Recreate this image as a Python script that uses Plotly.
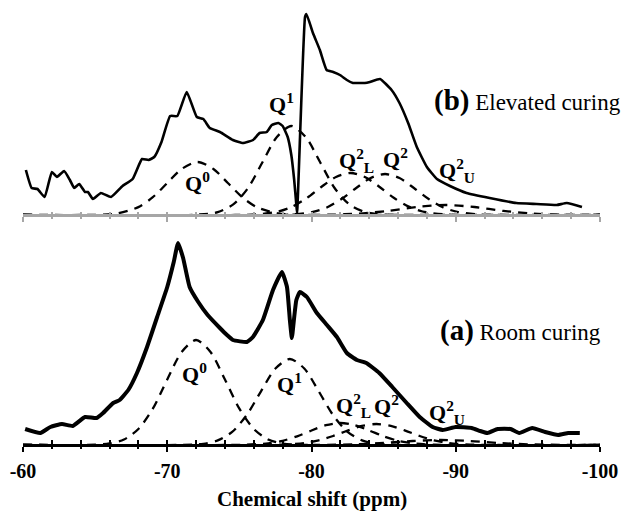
import plotly.graph_objects as go

# ---------------- data ----------------
# (b) Elevated curing – measured spectrum
b_ppm = [-60.2, -60.6, -61.0, -61.5, -62.0, -62.35, -62.85, -63.25, -63.55, -63.9, -64.3, -64.5,
         -64.85, -65.4, -66.1, -66.9, -67.6, -68.25, -68.7, -69.1, -69.6, -70.2, -70.7, -71.35,
         -72.05, -72.5, -72.95, -73.65, -74.55, -75.25, -75.95, -76.4, -76.9, -77.25, -77.7, -78.0,
         -78.35, -78.6, -78.8, -78.95, -79.0, -79.55, -79.65, -80.1, -80.58, -81.05, -81.5, -81.97,
         -82.45, -82.87, -83.15, -83.7, -84.05, -84.75, -85.55, -86.1, -86.7, -87.3, -88.0, -88.7,
         -89.6, -90.75, -92.35, -94.2, -95.6, -97.0, -97.7, -98.75]
b_int = [45, 27, 26, 18, 43, 38, 44, 35, 27, 31, 23, 23,
         16, 22, 18, 29, 36, 56, 55, 58, 73, 99, 99, 123,
         98, 96, 87, 83, 75, 72, 75, 82, 83, 90, 92, 89,
         78, 60, 35, 10, 2, 198, 201, 182, 165, 145, 143, 140,
         135, 132, 132, 132, 133, 136, 125, 112, 92, 68, 48, 36,
         29, 22, 17, 12, 11, 10, 12, 8]

# (b) fitted components
bQ0_ppm = [-60, -65, -66.5, -68, -69, -70, -71, -72.1, -73.2, -74.2, -75.2, -76.2, -77.7, -79.2, -85, -100]
bQ0_int = [0, 0.2, 1.5, 7.9, 17.8, 32, 46, 53, 46, 32, 17.8, 7.9, 1.5, 0.2, 0, 0]
bQ1_ppm = [-60, -72, -73.5, -74.6, -75.6, -76.6, -77.6, -78.6, -79.6, -80.6, -81.6, -82.6, -83.7, -85.2, -100]
bQ1_int = [0, 0.3, 2.9, 10.9, 27, 52.7, 78, 89, 78, 52.7, 27, 10.9, 2.9, 0.3, 0]
bQ2L_ppm = [-60, -74.7, -76.2, -77.7, -78.7, -79.7, -80.7, -81.7, -82.7, -83.7, -84.7, -85.7, -86.7, -87.7, -89.2, -90.7, -100]
bQ2L_int = [0, 0, 0.6, 3.5, 8.6, 17.2, 28.3, 38, 42, 38, 28.3, 17.2, 8.6, 3.5, 0.6, 0, 0]
bQ2_ppm = [-60, -77.1, -78.6, -80.1, -81.1, -82.1, -83.1, -84.1, -85.1, -86.1, -87.1, -88.1, -89.1, -90.1, -91.6, -93.1, -100]
bQ2_int = [0, 0, 0.5, 3.1, 7.8, 16.2, 27, 37, 41, 37, 27, 16.2, 7.8, 3.1, 0.5, 0, 0]
bQ2U_ppm = [-60, -79.3, -81.3, -83.3, -85.3, -87.3, -89.3, -91.3, -93.3, -95.3, -97.3, -100]
bQ2U_int = [0, 0, 0.3, 1.4, 4.1, 8, 10, 8, 4.1, 1.4, 0.3, 0]

# (a) Room curing – measured spectrum
a_ppm = [-60.15, -61.2, -61.9, -62.7, -63.45, -64.3, -65.1, -65.55, -66.25, -66.7, -67.3, -67.9,
         -68.6, -69.3, -70.0, -70.45, -70.75, -71.1, -71.55, -72.15, -72.8, -73.65, -74.14, -74.55,
         -75.52, -75.94, -76.63, -77.33, -77.95, -78.3, -78.5, -78.64, -78.78, -78.95, -79.2, -79.68,
         -80.37, -81.07, -81.76, -82.45, -83.15, -83.8, -84.7, -85.6, -86.6, -87.5, -88.4, -89.1,
         -90.0, -91.1, -91.7, -92.2, -92.9, -93.8, -94.4, -95.3, -96.2, -97.1, -97.8, -98.6]
a_int = [16, 12, 18, 21, 19, 28, 27, 32, 42, 45, 55, 72,
         98, 128, 158, 183, 202, 187, 158, 143, 130, 117, 110, 105,
         103, 108, 125, 155, 173, 158, 125, 107, 125, 145, 153, 148,
         132, 120, 108, 92, 85, 82, 72, 58, 42, 28, 18, 15,
         18, 17, 14, 12, 16, 16, 12, 17, 13, 10, 12, 12]

# (a) fitted components
aQ0_ppm = [-60, -64.5, -66, -67, -68, -69, -70, -71, -72, -73, -74, -75, -76, -77, -78, -79.5, -100]
aQ0_int = [0, 0.1, 1.5, 5.5, 16, 36.3, 65.5, 93, 105, 93, 65.5, 36.3, 16, 5.5, 1.5, 0.1, 0]
aQ1_ppm = [-60, -71, -72.5, -73.5, -74.5, -75.5, -76.5, -77.5, -78.5, -79.5, -80.5, -81.5, -82.5, -83.5, -84.5, -86, -100]
aQ1_int = [0, 0.1, 1.2, 4.6, 13.1, 29.8, 53.7, 76.5, 86, 76.5, 53.7, 29.8, 13.1, 4.6, 1.2, 0.1, 0]
aQ2L_ppm = [-60, -74, -75.5, -77, -78, -79, -80, -81, -82, -83, -84, -85, -86, -87, -88.5, -90, -100]
aQ2L_int = [0, 0, 0.3, 1.7, 4.2, 8.7, 14.5, 19.8, 22, 19.8, 14.5, 8.7, 4.2, 1.7, 0.3, 0, 0]
aQ2_ppm = [-60, -76, -78, -79.5, -80.5, -81.5, -82.5, -83.5, -84.5, -85.5, -86.5, -87.5, -88.5, -89.5, -91, -93, -100]
aQ2_int = [0, 0, 0.4, 2, 4.6, 9, 14.4, 19.1, 21, 19.1, 14.4, 9, 4.6, 2, 0.4, 0, 0]
aQ2U_ppm = [-60, -80, -83, -85, -87, -89, -91, -93, -95, -98, -100]
aQ2U_int = [0, 0, 0.7, 2, 4, 5, 4, 2, 0.7, 0, 0]

tick_vals = [-60, -70, -80, -90, -100]
tick_text = ["-60", "-70", "-80", "-90", "-100"]

# ---------------- figure ----------------
SERIF = "Liberation Serif"
fig = go.Figure()

dash_style = dict(color="black", width=2.3, dash="9px,7px", shape="spline", smoothing=0.8)

for xs, ys in [(bQ0_ppm, bQ0_int), (bQ1_ppm, bQ1_int), (bQ2L_ppm, bQ2L_int),
               (bQ2_ppm, bQ2_int), (bQ2U_ppm, bQ2U_int)]:
    fig.add_trace(go.Scatter(x=xs, y=ys, mode="lines", line=dash_style,
                             xaxis="x2", yaxis="y2", showlegend=False, hoverinfo="skip"))
fig.add_trace(go.Scatter(x=b_ppm, y=b_int, mode="lines",
                         line=dict(color="black", width=2.6, shape="spline", smoothing=0.4),
                         xaxis="x2", yaxis="y2", showlegend=False))

for xs, ys in [(aQ0_ppm, aQ0_int), (aQ1_ppm, aQ1_int), (aQ2L_ppm, aQ2L_int),
               (aQ2_ppm, aQ2_int), (aQ2U_ppm, aQ2U_int)]:
    fig.add_trace(go.Scatter(x=xs, y=ys, mode="lines", line=dash_style,
                             xaxis="x", yaxis="y", showlegend=False, hoverinfo="skip"))
fig.add_trace(go.Scatter(x=a_ppm, y=a_int, mode="lines",
                         line=dict(color="black", width=4, shape="spline", smoothing=0.4),
                         xaxis="x", yaxis="y", showlegend=False))

# dummy traces so overlay axes (inside ticks) get drawn
fig.add_trace(go.Scatter(x=[None], y=[None], xaxis="x3", yaxis="y", showlegend=False, hoverinfo="skip"))
fig.add_trace(go.Scatter(x=[None], y=[None], xaxis="x4", yaxis="y2", showlegend=False, hoverinfo="skip"))

H = 448.0
pos_a = 3 / H
pos_b = (H - 215) / H
xr = [-60, -100]

common = dict(range=xr, showgrid=False, zeroline=False, fixedrange=True, anchor="free")

fig.update_layout(
    width=625, height=511,
    margin=dict(l=23, r=25, t=0, b=63),
    paper_bgcolor="white", plot_bgcolor="rgba(0,0,0,0)",
    xaxis=dict(**common, position=pos_a, showline=True, linecolor="black", linewidth=3,
               ticks="outside", ticklen=5, tickwidth=2, tickcolor="black",
               tickvals=tick_vals, ticktext=tick_text, ticklabelstandoff=2,
               tickfont=dict(family=SERIF, size=20, color="black", weight="bold"),
               minor=dict(ticks="outside", dtick=2, tick0=-60, ticklen=2, tickwidth=2, tickcolor="black")),
    xaxis3=dict(**common, position=pos_a, overlaying="x", showline=False,
                ticks="inside", ticklen=5, tickwidth=2, tickcolor="black",
                tickvals=tick_vals, showticklabels=False,
                minor=dict(ticks="inside", dtick=2, tick0=-60, ticklen=5, tickwidth=2, tickcolor="black")),
    xaxis2=dict(**common, position=pos_b, showline=True, linecolor="#a6a6a6", linewidth=3,
                ticks="outside", ticklen=5, tickwidth=2, tickcolor="#a6a6a6",
                tickvals=tick_vals, showticklabels=False,
                minor=dict(ticks="outside", dtick=2, tick0=-60, ticklen=2, tickwidth=2, tickcolor="#a6a6a6")),
    xaxis4=dict(**common, position=pos_b, overlaying="x2", showline=False,
                ticks="inside", ticklen=3, tickwidth=2, tickcolor="#a6a6a6",
                tickvals=tick_vals, showticklabels=False,
                minor=dict(ticks="inside", dtick=2, tick0=-60, ticklen=3, tickwidth=2, tickcolor="#a6a6a6")),
    yaxis=dict(domain=[0, 218 / H], range=[-3, 215], visible=False, fixedrange=True),
    yaxis2=dict(domain=[(H - 218) / H, 1], range=[-3, 215], visible=False, fixedrange=True),
)

lab_font = dict(family=SERIF, size=22, color="black")
labels_b = [("<b>Q<sup>0</sup></b>", -72.13, 33), ("<b>Q<sup>1</sup></b>", -77.95, 112),
            ("<b>Q<sup>2</sup><sub>L</sub></b>", -83.1, 55), ("<b>Q<sup>2</sup></b>", -85.85, 57),
            ("<b>Q<sup>2</sup><sub>U</sub></b>", -90.1, 45)]
labels_a = [("<b>Q<sup>0</sup></b>", -71.92, 72), ("<b>Q<sup>1</sup></b>", -78.5, 62),
            ("<b>Q<sup>2</sup><sub>L</sub></b>", -82.9, 40), ("<b>Q<sup>2</sup></b>", -85.2, 40),
            ("<b>Q<sup>2</sup><sub>U</sub></b>", -89.4, 33)]
for t, x, y in labels_b:
    fig.add_annotation(text=t, x=x, y=y, xref="x2", yref="y2", showarrow=False, font=lab_font,
                       xanchor="center", yanchor="middle")
for t, x, y in labels_a:
    fig.add_annotation(text=t, x=x, y=y, xref="x", yref="y", showarrow=False, font=lab_font,
                       xanchor="center", yanchor="middle")

fig.add_annotation(text="<span style='font-size:29px'><b>(b)</b></span> Elevated curing",
                   xref="paper", yref="paper", x=(623 - 23) / 577, y=(H - 100) / H,
                   xanchor="right", yanchor="middle", showarrow=False,
                   font=dict(family=SERIF, size=23, color="black"))
fig.add_annotation(text="<span style='font-size:29px'><b>(a)</b></span> Room curing",
                   xref="paper", yref="paper", x=(603 - 23) / 577, y=(H - 330) / H,
                   xanchor="right", yanchor="middle", showarrow=False,
                   font=dict(family=SERIF, size=23, color="black"))
fig.add_annotation(text="<b>Chemical shift (ppm)</b>", xref="x", yref="paper", x=-80,
                   y=(H - 499) / H, xanchor="center", yanchor="middle", showarrow=False,
                   font=dict(family=SERIF, size=21, color="black"))

fig.write_html("out.html", config={"displayModeBar": False},
               post_script="document.body.style.margin='0';document.body.style.overflow='hidden';")
